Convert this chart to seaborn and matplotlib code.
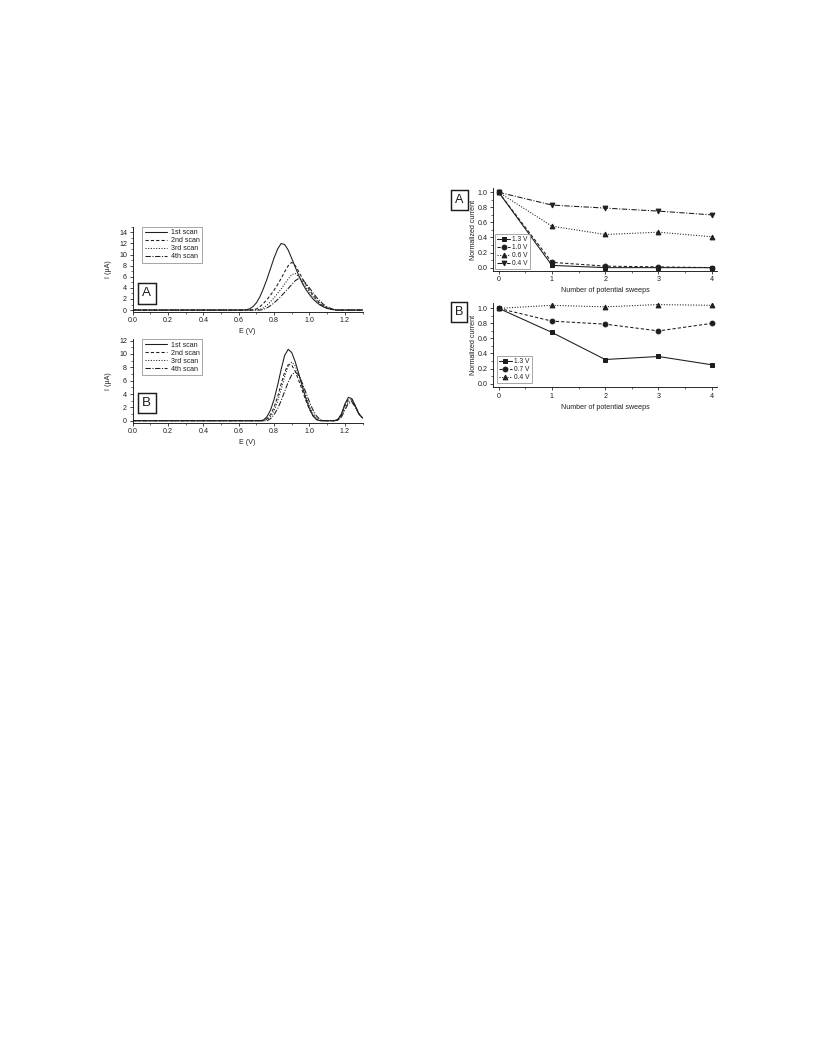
import matplotlib
matplotlib.use("Agg")
import matplotlib.pyplot as plt
from matplotlib.ticker import MultipleLocator
import seaborn as sns
import pandas as pd

sns.set_theme(style="ticks")
plt.rcParams["font.family"] = ["Liberation Sans", "DejaVu Sans"]
plt.rcParams["axes.linewidth"] = 0.7

INK = "#1e1e1e"

# ---- differential pulse voltammograms: potential (V) and current (uA) ----
E = [0.00, 0.60, 0.62, 0.64, 0.66, 0.68, 0.70, 0.72, 0.74, 0.76, 0.78, 0.80,
     0.82, 0.84, 0.86, 0.88, 0.90, 0.92, 0.94, 0.96, 0.98, 1.00, 1.02, 1.04,
     1.06, 1.08, 1.10, 1.12, 1.14, 1.16, 1.18, 1.20, 1.22, 1.24, 1.26, 1.28,
     1.30]

scan_labels = ["1st scan", "2nd scan", "3rd scan", "4th scan"]

# panel A (single oxidation peak)
a_scan1 = [0, 0, 0, 0.05, 0.2, 0.6, 1.3, 2.4, 3.9, 5.6, 7.5, 9.4, 11.0, 12.0,
           11.8, 10.8, 9.3, 7.7, 6.2, 4.8, 3.7, 2.8, 2.0, 1.4, 0.9, 0.55, 0.3,
           0.15, 0.05, 0, 0, 0, 0, 0, 0, 0, 0]
a_scan2 = [0, 0, 0, 0, 0, 0.05, 0.2, 0.6, 1.2, 1.9, 2.7, 3.6, 4.6, 5.7, 6.9,
           8.0, 8.6, 8.0, 6.9, 5.7, 4.6, 3.6, 2.7, 1.9, 1.2, 0.7, 0.35, 0.15,
           0.05, 0, 0, 0, 0, 0, 0, 0, 0]
a_scan3 = [0, 0, 0, 0, 0, 0, 0, 0.1, 0.4, 0.9, 1.5, 2.2, 3.0, 3.8, 4.7, 5.6,
           6.4, 6.6, 6.0, 5.1, 4.1, 3.2, 2.4, 1.7, 1.1, 0.7, 0.4, 0.2, 0.05, 0,
           0, 0, 0, 0, 0, 0, 0]
a_scan4 = [0, 0, 0, 0, 0, 0, 0, 0, 0.1, 0.4, 0.8, 1.3, 1.9, 2.5, 3.2, 3.9, 4.6,
           5.3, 5.7, 5.5, 4.8, 4.0, 3.1, 2.3, 1.6, 1.0, 0.6, 0.3, 0.1, 0, 0, 0,
           0, 0, 0, 0, 0]

# panel B (main peak plus a second peak near 1.22 V)
b_scan1 = [0, 0, 0, 0, 0, 0, 0, 0, 0.1, 0.6, 1.6, 3.2, 5.3, 7.7, 9.8, 10.7,
           10.2, 8.8, 7.0, 5.1, 3.3, 1.8, 0.7, 0.15, 0, 0, 0, 0, 0, 0.2, 1.0,
           2.5, 3.5, 3.3, 2.2, 1.0, 0.4]
b_scan2 = [0, 0, 0, 0, 0, 0, 0, 0, 0, 0.3, 0.9, 2.0, 3.6, 5.5, 7.3, 8.4, 8.3,
           7.4, 6.0, 4.5, 3.0, 1.7, 0.8, 0.2, 0, 0, 0, 0, 0, 0.1, 0.8, 2.2,
           3.2, 3.1, 2.1, 1.0, 0.4]
b_scan3 = [0, 0, 0, 0, 0, 0, 0, 0, 0, 0.2, 0.6, 1.5, 2.9, 4.7, 6.6, 8.2, 8.8,
           8.2, 6.8, 5.2, 3.6, 2.2, 1.1, 0.4, 0.05, 0, 0, 0, 0, 0.1, 0.7, 1.9,
           2.9, 2.9, 2.0, 1.0, 0.4]
b_scan4 = [0, 0, 0, 0, 0, 0, 0, 0, 0, 0, 0.3, 0.9, 1.8, 3.0, 4.4, 5.8, 6.9,
           7.3, 6.8, 5.6, 4.2, 2.8, 1.6, 0.7, 0.2, 0, 0, 0, 0, 0.05, 0.5, 1.6,
           2.6, 2.8, 2.0, 1.0, 0.4]

# ---- normalized peak current vs number of potential sweeps ----
sweeps = [0, 1, 2, 3, 4]
a_pot_labels = ["1.3 V", "1.0 V", "0.6 V", "0.4 V"]
a_norm = [
    [1.00, 0.03, 0.00, 0.00, 0.00],
    [1.00, 0.07, 0.02, 0.01, 0.00],
    [1.00, 0.55, 0.44, 0.47, 0.41],
    [1.00, 0.83, 0.79, 0.75, 0.70],
]
b_pot_labels = ["1.3 V", "0.7 V", "0.4 V"]
b_norm = [
    [1.00, 0.68, 0.32, 0.36, 0.25],
    [1.00, 0.83, 0.79, 0.70, 0.80],
    [1.00, 1.04, 1.02, 1.05, 1.04],
]

line_styles = ["-", (0, (3, 2)), (0, (1, 1.5)), (0, (5, 1.5, 1, 1.5))]
markers = ["s", "o", "^", "v"]

FS = 5.3

fig = plt.figure(figsize=(8.5, 11), dpi=96)


def style_axes(ax):
    sns.despine(ax=ax)
    ax.tick_params(which="major", direction="out", length=2.6, width=0.6,
                   labelsize=FS, pad=1.5, colors=INK)
    ax.tick_params(which="minor", direction="out", length=1.5, width=0.5)
    for s in ("left", "bottom"):
        ax.spines[s].set_color(INK)


def panel_tag(x, y, letter, size):
    fig.text(x, y, letter, fontsize=size, ha="center", va="center", color=INK,
             zorder=0,
             bbox=dict(boxstyle="square,pad=0.33", fc="none", ec=INK, lw=1.1))


def voltammogram(rect, curves, ylim, ymax_tick):
    ax = fig.add_axes(rect)
    df = pd.DataFrame({"E": E})
    for lab, vals, ls in zip(scan_labels, curves, line_styles):
        df[lab] = vals
        sns.lineplot(data=df, x="E", y=lab, ax=ax, color=INK, lw=0.8,
                     linestyle=ls, label=lab)
    ax.set_xlim(0, 1.3)
    ax.set_ylim(*ylim)
    ax.xaxis.set_major_locator(MultipleLocator(0.2))
    ax.xaxis.set_minor_locator(MultipleLocator(0.1))
    ax.set_yticks(list(range(0, ymax_tick + 1, 2)))
    ax.yaxis.set_minor_locator(MultipleLocator(1))
    ax.xaxis.set_major_formatter(matplotlib.ticker.FormatStrFormatter("%.1f"))
    ax.set_xlabel("E (V)", fontsize=FS, color=INK, labelpad=2.5)
    ax.set_ylabel("I (\u00b5A)", fontsize=FS, color=INK, labelpad=5)
    style_axes(ax)
    leg = ax.legend(loc="upper left", bbox_to_anchor=(0.043, 1.0),
                    borderaxespad=0, fontsize=FS, frameon=True,
                    fancybox=False, handlelength=3.2, handletextpad=0.5,
                    labelspacing=0.15, borderpad=0.35)
    leg.get_frame().set_edgecolor("#777777")
    leg.get_frame().set_linewidth(0.6)
    for t in leg.get_texts():
        t.set_color(INK)
    return ax


def decay(rect, labels, rows, ylim, anchor):
    ax = fig.add_axes(rect)
    for i, (lab, vals) in enumerate(zip(labels, rows)):
        d = pd.DataFrame({"sweep": sweeps, "current": vals})
        sns.lineplot(data=d, x="sweep", y="current", ax=ax, color=INK, lw=0.8,
                     linestyle=line_styles[i], marker=markers[i],
                     markersize=3.6, markeredgecolor=INK, label=lab)
    ax.set_xlim(-0.1, 4.1)
    ax.set_ylim(*ylim)
    ax.set_xticks(sweeps)
    ax.xaxis.set_minor_locator(MultipleLocator(0.5))
    ax.set_yticks([0.0, 0.2, 0.4, 0.6, 0.8, 1.0])
    ax.yaxis.set_minor_locator(MultipleLocator(0.1))
    ax.yaxis.set_major_formatter(matplotlib.ticker.FormatStrFormatter("%.1f"))
    ax.set_xlabel("Number of potential sweeps", fontsize=FS, color=INK,
                  labelpad=3)
    ax.set_ylabel("Normalized current", fontsize=FS, color=INK)
    ax.yaxis.set_label_coords(-0.073, 0.5)
    style_axes(ax)
    leg = ax.legend(loc="lower left", bbox_to_anchor=anchor, borderaxespad=0,
                    fontsize=FS - 0.3, frameon=True, fancybox=False,
                    handlelength=1.9, handletextpad=0.3, labelspacing=0.15,
                    borderpad=0.35)
    leg.get_frame().set_edgecolor("#777777")
    leg.get_frame().set_linewidth(0.6)
    for t in leg.get_texts():
        t.set_color(INK)
    return ax


voltammogram([0.1624, 0.7048, 0.2819, 0.0804],
             [a_scan1, a_scan2, a_scan3, a_scan4], (-0.3, 15), 14)
voltammogram([0.1624, 0.5997, 0.2819, 0.0790],
             [b_scan1, b_scan2, b_scan3, b_scan4], (-0.3, 12.2), 12)

decay([0.6046, 0.7437, 0.2741, 0.0778], a_pot_labels, a_norm,
      (-0.04, 1.05), (0.007, 0.017))
decay([0.6046, 0.6332, 0.2741, 0.0798], b_pot_labels, b_norm,
      (-0.05, 1.07), (0.015, 0.047))

panel_tag(0.1798, 0.7222, "A", 10)
panel_tag(0.1798, 0.6184, "B", 10)
panel_tag(0.5628, 0.8106, "A", 9.5)
panel_tag(0.5624, 0.7045, "B", 9.5)

fig.savefig("out.png", dpi=96, facecolor="white")
